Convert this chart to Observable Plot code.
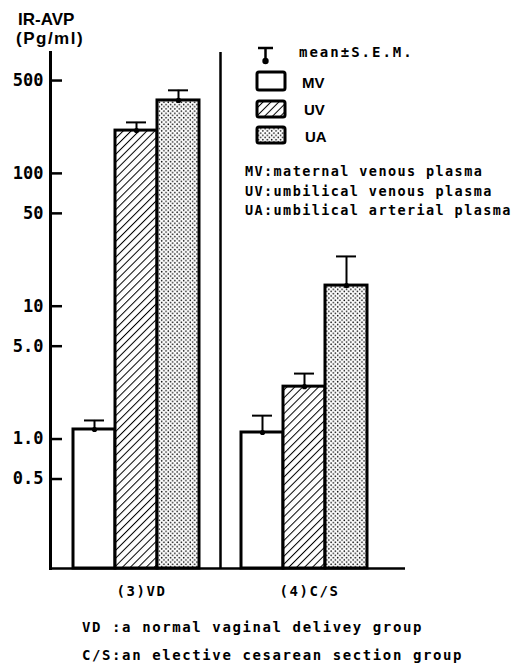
<!DOCTYPE html>
<html>
<head>
<meta charset="utf-8">
<script src="https://cdn.jsdelivr.net/npm/d3@7"></script>
<script src="https://cdn.jsdelivr.net/npm/@observablehq/plot@0.6"></script>
<style>
  html, body { margin: 0; padding: 0; background: #fff; }
  #wrap { position: relative; width: 516px; height: 664px; overflow: hidden; }
  #overlay { position: absolute; left: 0; top: 0; pointer-events: none; }
  .sans { font-family: "Liberation Sans", Arial, sans-serif; font-weight: bold; }
  .mono { font-family: "DejaVu Sans Mono", "Liberation Mono", monospace; font-weight: bold; }
</style>
</head>
<body>
<svg width="0" height="0" style="position:absolute">
  <defs>
    <pattern id="hatch" patternUnits="userSpaceOnUse" width="5.6" height="5.6" patternTransform="rotate(45)">
      <rect width="5.6" height="5.6" fill="#fff"></rect>
      <line x1="0" y1="0" x2="0" y2="5.6" stroke="#000" stroke-width="2"></line>
    </pattern>
    <pattern id="dots" patternUnits="userSpaceOnUse" width="4.4" height="4.4">
      <rect width="4.4" height="4.4" fill="#fff"></rect>
      <circle cx="1.1" cy="1.1" r="0.8" fill="#111"></circle>
      <circle cx="3.3" cy="3.3" r="0.8" fill="#111"></circle>
    </pattern>
  </defs>
</svg>
<div id="wrap"></div>
<script>
// ---- data ----
const groups = ["VD", "C/S"];
const groupLabels = ["(3)VD", "(4)C/S"];
const series = ["MV", "UV", "UA"];
const meanVD = [1.18, 210, 354];
const semVD  = [0.20, 32, 68];
const meanCS = [1.12, 2.48, 14.3];
const semCS  = [0.38, 0.63, 9.4];
const yTicks = [500, 100, 50, 10, 5, 1, 0.5];
const yTickLabels = ["500", "100", "50", "10", "5.0", "1.0", "0.5"];
const legendLabels = ["MV", "UV", "UA"];
const definitions = ["MV:maternal venous plasma", "UV:umbilical venous plasma", "UA:umbilical arterial plasma"];
const footnotes = ["VD :a normal vaginal delivey group", "C/S:an elective cesarean section group"];
const errorLegend = "mean\u00B1S.E.M.";
const yTitle = ["IR-AVP", "(Pg/ml)"];

// ---- build table ----
const fills = {MV: "#fff", UV: "url(#hatch)", UA: "url(#dots)"};
const rows = [];
groups.forEach((g, gi) => {
  const means = gi === 0 ? meanVD : meanCS;
  const sems = gi === 0 ? semVD : semCS;
  series.forEach((s, si) => rows.push({group: g, series: s, key: g + "-" + s, mean: means[si], sem: sems[si]}));
});
const xDomain = [...series.map(s => groups[0] + "-" + s), "gap", ...series.map(s => groups[1] + "-" + s)];
const yDomain = [0.106, 813];

const barMarks = series.map(s => Plot.barY(rows.filter(d => d.series === s), {
  x: "key", y1: () => yDomain[0], y2: "mean",
  fill: fills[s], stroke: "#000", strokeWidth: 3, inset: 0
}));

const chart = Plot.plot({
  width: 516, height: 664,
  marginTop: 52, marginBottom: 96, marginLeft: 50, marginRight: 111,
  x: {domain: xDomain, range: [72, 367], padding: 0, axis: null},
  y: {type: "log", domain: yDomain, axis: null},
  marks: [
    ...barMarks,
    Plot.ruleX(rows, {x: "key", y1: "mean", y2: d => d.mean + d.sem, strokeWidth: 2}),
    Plot.tickY(rows, {x: "key", y: d => d.mean + d.sem, strokeWidth: 2, insetLeft: 11, insetRight: 11}),
    Plot.dot(rows, {x: "key", y: "mean", r: 2.6, fill: "#000", stroke: "none"}),
    Plot.ruleX(["gap"], {strokeWidth: 2.5}),
    Plot.ruleY([yDomain[0]], {strokeWidth: 2.5}),
    Plot.frame({anchor: "left", strokeWidth: 3}),
    Plot.ruleY(yTicks, {y: d => d, insetRight: 343, strokeWidth: 2.5}),
    Plot.text(yTicks, {y: d => d, text: (d, i) => yTickLabels[i], frameAnchor: "left", dx: -7, textAnchor: "end",
      fontFamily: "DejaVu Sans Mono", fontWeight: "bold", fontSize: 17}),
    Plot.text(groups, {x: g => g + "-UV", y: () => yDomain[0], text: (g, i) => groupLabels[i], dy: 23, dx: 5,
      fontFamily: "DejaVu Sans Mono", fontWeight: "bold", fontSize: 14})
  ]
});
chart.querySelectorAll("text").forEach(t => {
  if (groupLabels.includes(t.textContent)) t.style.letterSpacing = "1.6px";
});
const wrap = document.getElementById("wrap");
wrap.appendChild(chart);

// ---- overlay: axis title, legend, definitions, footnotes ----
const ov = d3.select(wrap).append("svg").attr("id", "overlay").attr("width", 516).attr("height", 664);
ov.append("text").attr("class", "sans").attr("x", 18).attr("y", 25).attr("font-size", 17).text(yTitle[0]);
ov.append("text").attr("class", "sans").attr("x", 16).attr("y", 44).attr("font-size", 17)
  .style("letter-spacing", "1.5px").text(yTitle[1]);

// error-bar legend symbol
const eg = ov.append("g").attr("stroke", "#000");
eg.append("line").attr("x1", 258).attr("x2", 273).attr("y1", 48).attr("y2", 48).attr("stroke-width", 2.5);
eg.append("line").attr("x1", 265.5).attr("x2", 265.5).attr("y1", 48).attr("y2", 61).attr("stroke-width", 2.5);
eg.append("circle").attr("cx", 265.5).attr("cy", 61).attr("r", 3.2).attr("fill", "#000").attr("stroke", "none");
ov.append("text").attr("class", "mono").attr("x", 299).attr("y", 57).attr("font-size", 14)
  .style("letter-spacing", "2px").text(errorLegend);

const boxY = [72, 101, 127];
const boxH = [18, 16, 16];
const labY = [88, 115, 142];
const labX = [302, 304, 305];
legendLabels.forEach((s, i) => {
  ov.append("rect").attr("x", 257).attr("y", boxY[i]).attr("width", 28).attr("height", boxH[i]).attr("rx", 2)
    .attr("fill", fills[series[i]]).attr("stroke", "#000").attr("stroke-width", 3);
  ov.append("text").attr("class", "sans").attr("x", labX[i]).attr("y", labY[i]).attr("font-size", 15).text(s);
});
const defY = [176, 195.5, 215];
definitions.forEach((t, i) => {
  ov.append("text").attr("class", "mono").attr("x", 245).attr("y", defY[i]).attr("font-size", 13.5)
    .style("letter-spacing", "1.4px").text(t);
});
const footY = [632, 660];
footnotes.forEach((t, i) => {
  ov.append("text").attr("class", "mono").attr("x", 82).attr("y", footY[i]).attr("font-size", 14)
    .style("letter-spacing", "1.6px").text(t);
});
</script>
</body>
</html>
